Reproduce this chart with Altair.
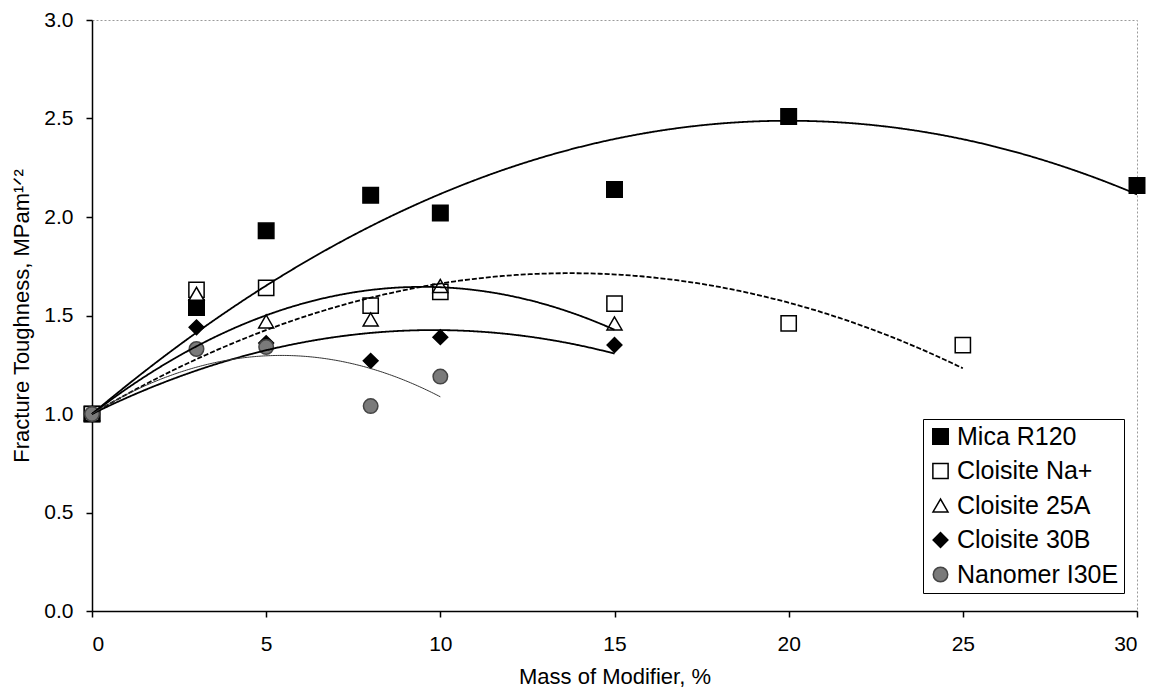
import altair as alt
import numpy as np
import pandas as pd

series_names = ["Mica R120", "Cloisite Na+", "Cloisite 25A", "Cloisite 30B", "Nanomer I30E"]

mica_x = [0, 3, 5, 8, 10, 15, 20, 30]
mica_y = [1.00, 1.54, 1.93, 2.11, 2.02, 2.14, 2.51, 2.16]
na_x = [0, 3, 5, 8, 10, 15, 20, 25]
na_y = [1.00, 1.63, 1.64, 1.55, 1.62, 1.56, 1.46, 1.35]
c25a_x = [0, 3, 5, 8, 10, 15]
c25a_y = [1.00, 1.61, 1.47, 1.48, 1.65, 1.46]
c30b_x = [0, 3, 5, 8, 10, 15]
c30b_y = [1.00, 1.44, 1.36, 1.27, 1.39, 1.35]
nano_x = [0, 3, 5, 8, 10]
nano_y = [1.00, 1.33, 1.34, 1.04, 1.19]

# Excel-style 2nd order polynomial trendlines with the intercept set to 1.0
trend_intercept = 1.0

x_ticks = [0, 5, 10, 15, 20, 25, 30]
y_ticks = [0.0, 0.5, 1.0, 1.5, 2.0, 2.5, 3.0]

all_x = [mica_x, na_x, c25a_x, c30b_x, nano_x]
all_y = [mica_y, na_y, c25a_y, c30b_y, nano_y]

rows = []
trend_rows = []
for name, xs, ys in zip(series_names, all_x, all_y):
    for a, b in zip(xs, ys):
        rows.append({"series": name, "mass": a, "kic": b})
    # least-squares fit of y - 1 = a*x + b*x^2 from the data points
    xa = np.array(xs, dtype=float)
    za = np.array(ys, dtype=float) - trend_intercept
    A = np.column_stack([xa, xa ** 2])
    coef, *_ = np.linalg.lstsq(A, za, rcond=None)
    for t in np.linspace(0, xa.max(), 200):
        trend_rows.append({"series": name, "mass": float(t),
                           "kic": float(trend_intercept + coef[0] * t + coef[1] * t * t)})

df = pd.DataFrame(rows)
trend = pd.DataFrame(trend_rows)

FONT = "Liberation Sans"

x_enc = alt.X("mass:Q", scale=alt.Scale(domain=[0, 30], nice=False),
              axis=alt.Axis(values=x_ticks, format="d", title="Mass of Modifier, %",
                            tickSize=6, labelPadding=16, titlePadding=12))
y_enc = alt.Y("kic:Q", scale=alt.Scale(domain=[0, 3], nice=False),
              axis=alt.Axis(values=y_ticks, format=".1f",
                            title="Fracture Toughness, MPam\u00b9\u141f\u00b2",
                            tickSize=6, labelPadding=13, titlePadding=10))

legend = alt.Legend(orient="none", legendX=831, legendY=399, title=None,
                    strokeColor="black", fillColor="white", padding=5,
                    labelFontSize=25, labelFont=FONT, labelColor="black",
                    symbolStrokeWidth=1.5, rowPadding=8.5, labelOffset=4,
                    labelLimit=400)

points = alt.Chart(df).mark_point(filled=False, strokeWidth=1.5, opacity=1).encode(
    x=x_enc,
    y=y_enc,
    shape=alt.Shape("series:N", sort=series_names,
                    scale=alt.Scale(domain=series_names,
                                    range=["square", "square", "triangle-up", "diamond", "circle"]),
                    legend=legend),
    fill=alt.Fill("series:N", sort=series_names,
                  scale=alt.Scale(domain=series_names,
                                  range=["black", "white", "white", "black", "#7a7a7a"]),
                  legend=legend),
    stroke=alt.Stroke("series:N", sort=series_names,
                      scale=alt.Scale(domain=series_names,
                                      range=["black", "black", "black", "black", "#444444"]),
                      legend=legend),
    size=alt.Size("series:N", sort=series_names,
                  scale=alt.Scale(domain=series_names,
                                  range=[240, 210, 200, 220, 170]),
                  legend=legend),
)

main_series = series_names[:4]
lines = alt.Chart(trend).transform_filter(
    alt.FieldOneOfPredicate(field="series", oneOf=main_series)
).mark_line(color="black", strokeWidth=1.8).encode(
    x="mass:Q",
    y="kic:Q",
    detail="series:N",
    strokeDash=alt.StrokeDash("series:N",
                              scale=alt.Scale(domain=main_series,
                                              range=[[1, 0], [5, 2], [1, 0], [1, 0]]),
                              legend=None),
)

nano_line = alt.Chart(trend).transform_filter(
    alt.datum.series == "Nanomer I30E"
).mark_line(color="#333333", strokeWidth=1.0).encode(
    x="mass:Q",
    y="kic:Q",
)

chart = alt.layer(points, lines, nano_line).properties(
    width=1045, height=591,
    autosize=alt.AutoSizeParams(type="none"),
    padding={"left": 92, "top": 20, "right": 15, "bottom": 83},
    background="white",
).configure_view(
    stroke="#9a9a9a", strokeDash=[2, 2], strokeWidth=1
).configure_axis(
    grid=False, domainColor="black", domainWidth=1.5, tickColor="black", tickWidth=1.5,
    labelFont=FONT, labelFontSize=21, labelColor="black",
    titleFont=FONT, titleFontSize=22, titleColor="black", titleFontWeight="normal",
)

chart.save("out.html", embed_options={"renderer": "svg", "actions": False})
